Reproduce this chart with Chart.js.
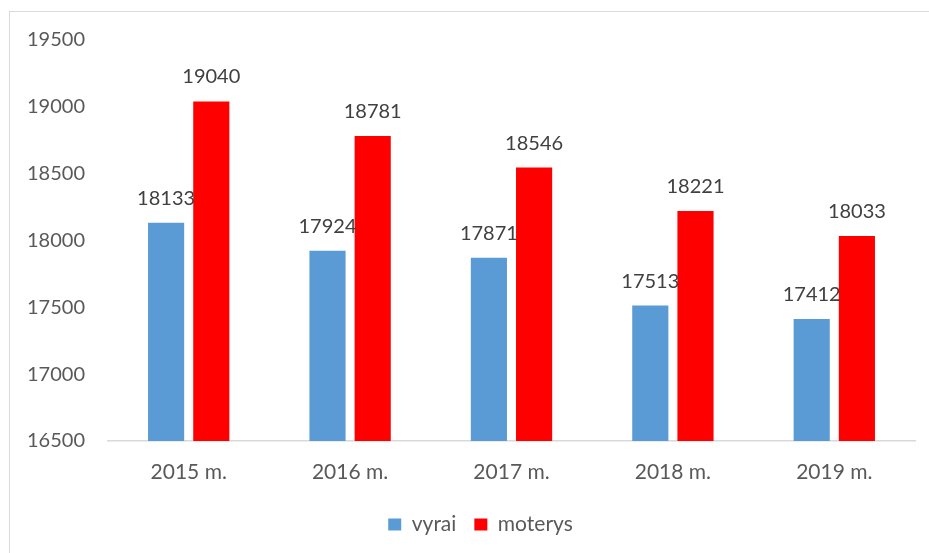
<!DOCTYPE html>
<html>
<head>
<meta charset="utf-8">
<script src="https://cdn.jsdelivr.net/npm/chart.js@4/dist/chart.umd.min.js"></script>
<style>
  html, body { margin: 0; padding: 0; background: #fff; overflow: hidden; }
  #frame { position: absolute; left: 9px; top: 11px; width: 960px; height: 600px; border: 1px solid #d9d9d9; }
  #wrap { position: absolute; left: 0; top: 0; width: 929px; height: 553px; }
</style>
</head>
<body>
<div id="frame"></div>
<div id="wrap"><canvas id="chart"></canvas></div>
<script>
const categories = ['2015 m.', '2016 m.', '2017 m.', '2018 m.', '2019 m.'];
const vyrai = [18133, 17924, 17871, 17513, 17412];
const moterys = [19040, 18781, 18546, 18221, 18033];
const yMin = 16500;
const yMax = 19500;
const yStep = 500;

// draws the value above each bar, using the bar positions from the chart
const valueLabels = {
  id: 'valueLabels',
  afterDatasetsDraw(chart) {
    const ctx = chart.ctx;
    ctx.save();
    ctx.font = '20px Lato';
    ctx.fillStyle = '#404040';
    ctx.textAlign = 'center';
    ctx.textBaseline = 'alphabetic';
    chart.data.datasets.forEach((ds, i) => {
      chart.getDatasetMeta(i).data.forEach((bar, j) => {
        ctx.fillText(ds.data[j], bar.x, bar.y - 18);
      });
    });
    ctx.restore();
  }
};

// the legend sits a bit right of the canvas centre in the original
const legendShift = {
  id: 'legendShift',
  afterLayout(chart) {
    if (chart.legend) {
      chart.legend.left += 46;
    }
  }
};

const font = { family: 'Lato', size: 20 };
const bigFont = { family: 'Lato', size: 21 };

new Chart(document.getElementById('chart'), {
  type: 'bar',
  data: {
    labels: categories,
    datasets: [
      { label: 'vyrai', data: vyrai, backgroundColor: '#5b9bd5' },
      { label: 'moterys', data: moterys, backgroundColor: '#ff0000' }
    ]
  },
  options: {
    responsive: true,
    maintainAspectRatio: false,
    animation: false,
    categoryPercentage: 0.56,
    barPercentage: 0.8,
    layout: { padding: { left: 0, right: 14, top: 40, bottom: 8 } },
    plugins: {
      tooltip: { enabled: false },
      legend: {
        position: 'bottom',
        labels: { boxWidth: 13, boxHeight: 12, font: bigFont, color: '#595959', padding: 18 }
      }
    },
    scales: {
      x: {
        grid: { display: false, drawTicks: false },
        border: { display: true, color: '#d9d9d9', width: 1.5 },
        ticks: { font: bigFont, color: '#595959', padding: 19 },
        afterFit: (s) => { s.height = 55; }
      },
      y: {
        min: yMin,
        max: yMax,
        grid: { display: false, drawTicks: false },
        border: { display: false },
        ticks: { stepSize: yStep, font: font, color: '#595959', padding: 23, callback: (v) => String(v) },
        afterFit: (s) => { s.width = 108; }
      }
    }
  },
  plugins: [valueLabels, legendShift]
});
</script>
</body>
</html>
